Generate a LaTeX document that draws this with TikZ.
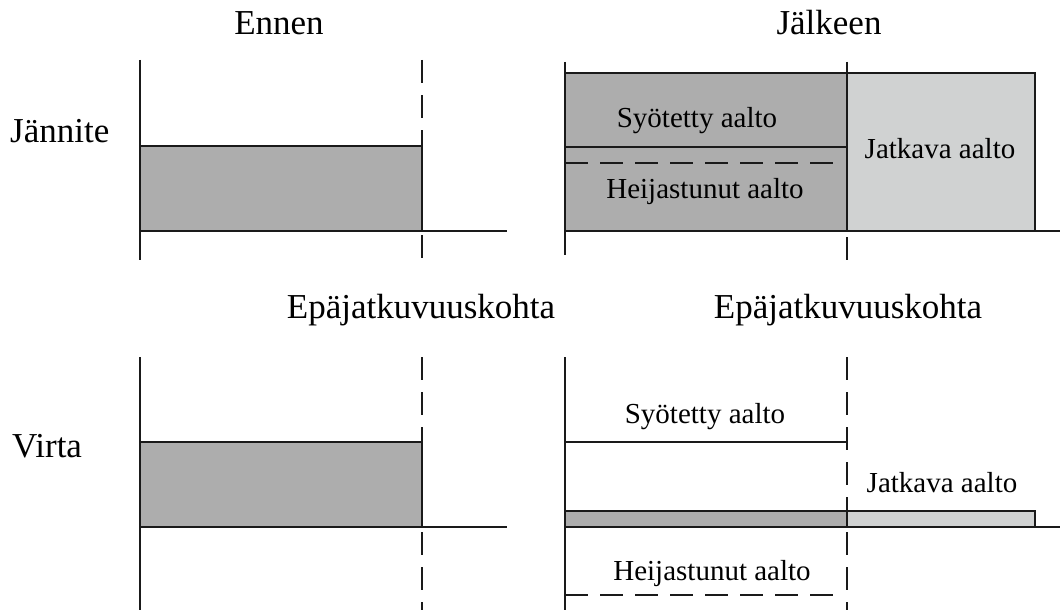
\documentclass[tikz,border=0pt]{standalone}
\usepackage{fontspec}
\setmainfont{Liberation Serif}
\definecolor{darkfill}{HTML}{ADADAD}
\definecolor{lightfill}{HTML}{D0D2D2}
\definecolor{ink}{HTML}{1A1A1A}
\begin{document}
\begin{tikzpicture}[x=1pt,y=-1pt,
  solidline/.style={draw=ink, line width=2.2pt},
  dashline/.style={draw=ink, line width=2.2pt, dash pattern=on 23pt off 12pt},
  darkbox/.style={fill=darkfill, draw=ink, line width=2.2pt},
  lightbox/.style={fill=lightfill, draw=ink, line width=2.2pt},
  titletext/.style={font=\fontsize{35}{40}\selectfont, inner sep=0pt, anchor=base},
  labeltext/.style={font=\fontsize{29}{34}\selectfont, inner sep=0pt, anchor=base}]
\useasboundingbox (0,0) rectangle (1060,610);

% ---------- titles ----------
\node[titletext] (ennen) at (279,35) {Ennen};
\node[titletext] (jalkeen) at (829,35) {Jälkeen};
\node[titletext, anchor=base west] (jannite) at (10,142) {Jännite};
\node[titletext, anchor=base west] (virta) at (12,457) {Virta};
\node[titletext] (epa1) at (421,318) {Epäjatkuvuuskohta};
\node[titletext] (epa2) at (848,318) {Epäjatkuvuuskohta};

% ---------- top-left panel (voltage, before) ----------
\draw[darkbox] (140,146) rectangle (422,231);
\draw[dashline] (422,60) -- (422,260);
\draw[solidline] (140,60) -- (140,260);
\draw[solidline] (140,231) -- (507,231);
\draw[solidline] (422,146) -- (422,231);

% ---------- bottom-left panel (current, before) ----------
\draw[darkbox] (140,442) rectangle (422,527);
\draw[dashline] (422,357) -- (422,610);
\draw[solidline] (140,357) -- (140,610);
\draw[solidline] (140,527) -- (507,527);
\draw[solidline] (422,442) -- (422,527);

% ---------- top-right panel (voltage, after) ----------
\draw[darkbox] (565,73) rectangle (847,231);
\draw[lightbox] (847,73) rectangle (1035,231);
\draw[dashline] (847,62) -- (847,260);
\draw[solidline] (847,62) -- (847,231);
\draw[solidline] (565,62) -- (565,255);
\draw[solidline] (565,231) -- (1060,231);
\draw[solidline] (565,147) -- (847,147);
\draw[dashline] (565,163) -- (838,163);
\node[labeltext] (syo1) at (697,127) {Syötetty aalto};
\node[labeltext] (hei1) at (705,198) {Heijastunut aalto};
\node[labeltext] (jat1) at (940,158) {Jatkava aalto};

% ---------- bottom-right panel (current, after) ----------
\draw[darkbox] (565,511) rectangle (847,527);
\draw[lightbox] (847,511) rectangle (1035,527);
\draw[dashline] (847,357) -- (847,610);
\draw[solidline] (565,357) -- (565,610);
\draw[solidline] (565,527) -- (1060,527);
\draw[solidline] (565,442) -- (847,442);
\draw[dashline] (565,595) -- (838,595);
\node[labeltext] (syo2) at (705,423) {Syötetty aalto};
\node[labeltext] (jat2) at (942,492) {Jatkava aalto};
\node[labeltext] (hei2) at (712,580) {Heijastunut aalto};
\end{tikzpicture}
\end{document}
